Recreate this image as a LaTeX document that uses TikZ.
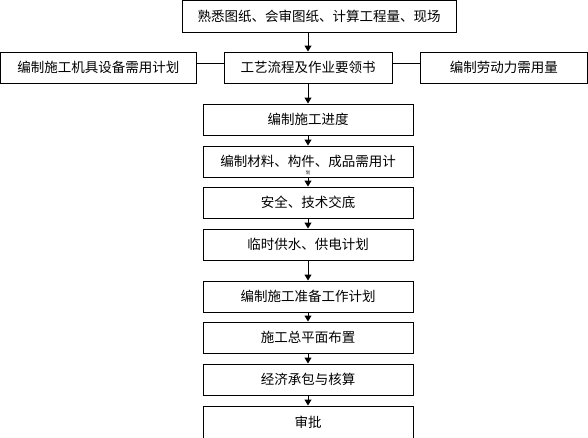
\documentclass[tikz,border=0pt]{standalone}
\usepackage{fontspec}
\setmainfont{Noto Sans CJK SC}
\usetikzlibrary{arrows.meta}
\begin{document}
\begin{tikzpicture}[x=1pt,y=-1pt,
  box/.style={draw, line width=1pt, rectangle, inner sep=0pt, align=center,
    font=\fontsize{13.5}{15}\selectfont},
  col/.style={box, minimum width=210pt, minimum height=31pt},
  arr/.style={line width=1pt, -{Triangle[width=7pt,length=6pt]}},
  link/.style={line width=1pt}]
\useasboundingbox (0,0) rectangle (588,437);
\begin{scope}
\clip (0,0) rectangle (588,437);
\node[box, minimum width=274pt, minimum height=31.5pt] (top) at (319,16.25) {熟悉图纸、会审图纸、计算工程量、现场};
\node[box, minimum width=195.5pt, minimum height=31pt] (left) at (98.25,67.5) {编制施工机具设备需用计划};
\node[box, minimum width=168pt, minimum height=31pt] (mid) at (308,67.5) {工艺流程及作业要领书};
\node[box, minimum width=167.5pt, minimum height=31pt] (right) at (503.75,67.5) {编制劳动力需用量};
\node[col] (b1) at (308,119.5) {编制施工进度};
\node[col] (b2) at (308,161.5) {编制材料、构件、成品需用计};
\node[font=\fontsize{4.5}{5}\selectfont, inner sep=0pt] (b2x) at (308,172.5) {划};
\node[col] (b3) at (308,202.5) {安全、技术交底};
\node[col] (b4) at (308,244.5) {临时供水、供电计划};
\node[col] (b5) at (308,296.5) {编制施工准备工作计划};
\node[col] (b6) at (308,337.5) {施工总平面布置};
\node[col] (b7) at (308,379.5) {经济承包与核算};
\node[col, minimum height=33pt] (b8) at (308,422.5) {审批};
\draw[arr] (top.south -| mid.north) -- (mid.north);
\draw[arr] (mid.south) -- (b1.north);
\draw[arr] (b1.south) -- (b2.north);
\draw[arr] (b2.south) -- (b3.north);
\draw[arr] (b3.south) -- (b4.north);
\draw[arr] (b4.south) -- (b5.north);
\draw[arr] (b5.south) -- (b6.north);
\draw[arr] (b6.south) -- (b7.north);
\draw[arr] (b7.south) -- (b8.north);
\draw[link] ([yshift=4.5pt]left.east) -- ([yshift=4.5pt]mid.west);
\draw[link] ([yshift=4.5pt]mid.east) -- ([yshift=4.5pt]right.west);
\end{scope}
\end{tikzpicture}
\end{document}
